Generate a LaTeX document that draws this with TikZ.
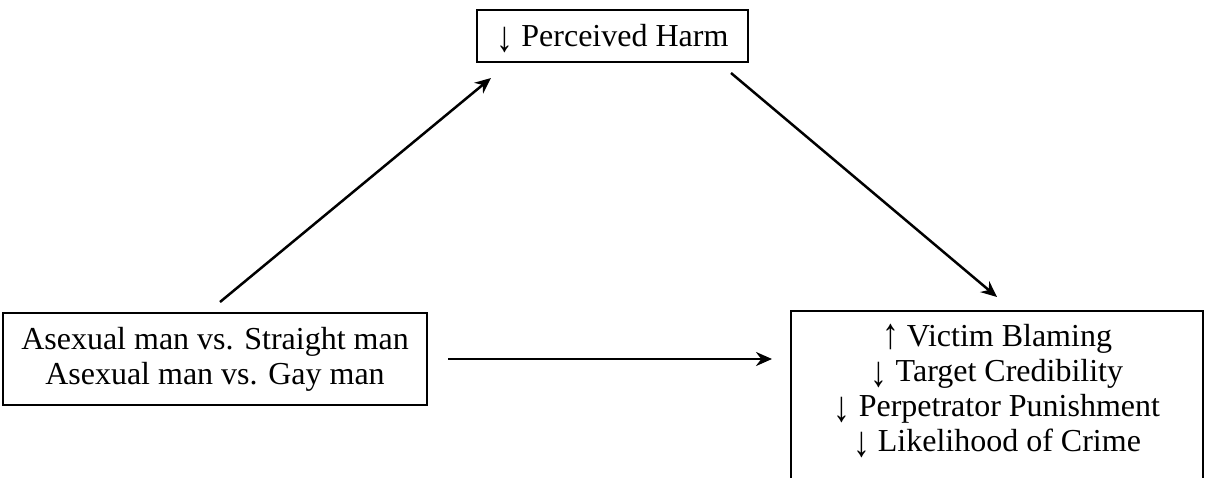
\documentclass[tikz,border=0pt]{standalone}
\usepackage{fontspec}
\setmainfont{Liberation Serif}
\usetikzlibrary{arrows.meta}
\newcommand{\dn}{\smash{\raisebox{-0.15em}{\scalebox{1.05}[1.35]{↓}}}}
\newcommand{\upa}{\smash{\raisebox{-0.06em}{\scalebox{1.05}[1.35]{↑}}}}
\begin{document}
\begin{tikzpicture}[x=1pt,y=-1pt,
  box/.style={draw=black, line width=2pt, align=center, inner sep=0pt,
    font=\fontsize{32}{35}\selectfont},
  arr/.style={line width=2.5pt, -{Stealth[length=16pt,width=14pt]}}]
\useasboundingbox (0,0) rectangle (1206,477);
\node[box, minimum width=271pt, minimum height=52pt] (m) at (612.5,36) {\dn\ Perceived Harm};
\node[box, minimum width=424pt, minimum height=92pt] (a) at (215,359) {Asexual man vs. Straight man\\Asexual man vs. Gay man};
\node[box, minimum width=412pt, minimum height=190pt, anchor=north] (o) at (997,310) {};
\node[align=center, anchor=north, inner sep=0pt, font=\fontsize{32}{35}\selectfont] (ot) at (997,324)
  {\upa\ Victim Blaming\\\dn\ Target Credibility\\\dn\ Perpetrator Punishment\\\dn\ Likelihood of Crime};
\draw[arr] ([shift={(5,-10)}]a.north) -- ([shift={(15,15)}]m.south west);
\draw[arr] ([shift={(-18,10)}]m.south east) -- ([shift={(0,-13)}]o.north);
\draw[arr] ([xshift=20pt]a.east) -- ([xshift=-18pt]a.east -| o.west);
\end{tikzpicture}
\end{document}
